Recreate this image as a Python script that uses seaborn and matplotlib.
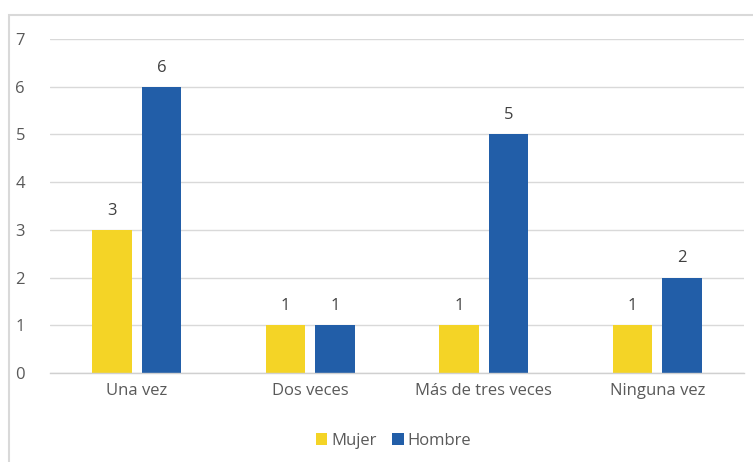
import matplotlib
matplotlib.use("Agg")
import matplotlib.pyplot as plt
import seaborn as sns
import pandas as pd
from matplotlib.patches import Rectangle

categories = ["Una vez", "Dos veces", "Más de tres veces", "Ninguna vez"]
mujer = [3, 1, 1, 1]
hombre = [6, 1, 5, 2]
series_names = ["Mujer", "Hombre"]
yticks = [0, 1, 2, 3, 4, 5, 6, 7]

df = pd.DataFrame({
    "cat": categories * 2,
    "val": mujer + hombre,
    "serie": [series_names[0]] * 4 + [series_names[1]] * 4,
})

sns.set_theme(style="white")
plt.rcParams["font.family"] = ["Open Sans", "DejaVu Sans"]

fig = plt.figure(figsize=(7.53, 4.62), dpi=100)
ax = fig.add_axes([50/753, 1-373/462, (744-50)/753, (373-39)/462])

palette = {"Mujer": "#F4D426", "Hombre": "#225EA8"}
sns.barplot(data=df, x="cat", y="val", hue="serie", palette=palette,
            width=0.57, gap=0.21, ax=ax, saturation=1, legend=True,
            linewidth=0, edgecolor="none")

for c in ax.containers:
    ax.bar_label(c, labels=[f"{int(v)}" for v in c.datavalues], padding=8,
                 fontsize=12, color="#404040")

ax.set_xlim(-0.5, 3.5)
ax.set_ylim(0, 7)
ax.set_yticks(yticks)
ax.set_yticklabels([str(t) for t in yticks])
ax.yaxis.grid(True, color="#D9D9D9", linewidth=1)
ax.set_axisbelow(True)
for s in ["top", "right", "left"]:
    ax.spines[s].set_visible(False)
ax.spines["bottom"].set_color("#D0D0D0")
ax.spines["bottom"].set_linewidth(1)
ax.set_xlabel("")
ax.set_ylabel("")
ax.tick_params(axis="both", length=0, labelsize=12, labelcolor="#595959")
ax.tick_params(axis="y", pad=18)
ax.tick_params(axis="x", pad=7)

ax.legend(loc="upper center", bbox_to_anchor=(0.495, -0.135), ncol=2, frameon=False,
          fontsize=12, handlelength=0.7, handleheight=0.7, handletextpad=0.25,
          columnspacing=0.9, labelcolor="#595959")

fig.patches.append(Rectangle((8.5/753, -0.1), 1.2, 1 - 15.5/462 + 0.1,
                             transform=fig.transFigure, fill=False,
                             edgecolor="#D9D9D9", linewidth=1.5))

fig.savefig("out.png", dpi=100)
